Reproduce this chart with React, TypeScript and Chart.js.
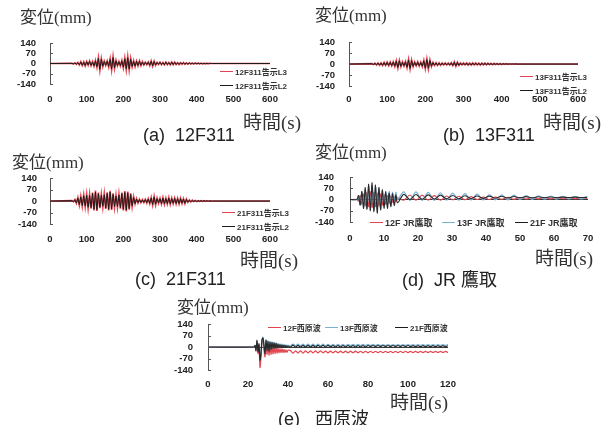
import React, { useEffect, useRef } from "react";
import { Chart, registerables } from "chart.js";

Chart.register(...registerables);

// ---------------------------------------------------------------------------
// Data. Displacement in mm. Long-period records (a)–(c) are sampled every 4 s
// from 60 s to 440 s; before and after that the response is flat at zero.
// ---------------------------------------------------------------------------
const LONG_START = 60;
const LONG_STEP = 4;
const LONG_END = 600;

// (a) 12F311
const A_L2 = [
  1, -2, 3, -4, 5, -8, 10, -12, 9, -14,
  12, -10, 15, -13, 11, -16, 18, -22, 35, -40,
  30, -18, 14, -12, 16, -20, 28, -38, 40, -30,
  18, -14, 12, -15, 18, -25, 32, -36, 40, -38,
  30, -20, 16, -18, 15, -14, 16, -12, 10, -9,
  8, -7, 9, -12, 15, -16, 14, -10, 7, -6,
  8, -7, 6, -8, 9, -7, 6, -8, 9, -7,
  8, -6, 5, -6, 5, -4, 5, -4, 3, -4,
  3, -3, 2, -3, 2, -2, 2, -2, 1, -2,
  1, -1, 1, -1, 1, 0,
];
const A_L3 = [
  1, -3, 4, -5, 7, -10, 12, -14, 11, -16,
  14, -12, 17, -15, 13, -18, 21, -26, 40, -46,
  34, -21, 16, -14, 18, -23, 32, -44, 46, -34,
  21, -16, 14, -17, 21, -29, 37, -42, 46, -44,
  35, -23, 18, -21, 17, -16, 18, -14, 12, -10,
  9, -8, 10, -14, 17, -18, 16, -12, 8, -7,
  9, -8, 7, -9, 10, -8, 7, -9, 10, -8,
  9, -7, 6, -7, 6, -5, 6, -5, 4, -5,
  4, -3, 3, -3, 3, -2, 2, -2, 2, -2,
  1, -1, 1, -1, 1, 0,
];

// (b) 13F311
const B_L2 = [
  2, -3, 4, -5, 6, -7, 6, -8, 9, -8,
  10, -9, 11, -10, 12, -14, 18, -22, 20, -15,
  12, -11, 14, -20, 26, -28, 22, -15, 11, -10,
  12, -11, 10, -14, 20, -26, 28, -27, 22, -14,
  9, -8, 7, -8, 6, -7, 6, -5, 6, -5,
  5, -6, 7, -9, 11, -12, 10, -8, 6, -5,
  6, -5, 6, -6, 5, -6, 6, -5, 6, -5,
  5, -6, 5, -4, 5, -4, 4, -3, 3, -3,
  3, -2, 2, -2, 2, -2, 2, -1, 2, -1,
  1, -1, 1, -1, 1, 0,
];
const B_L3 = [
  2, -3, 5, -6, 7, -8, 7, -9, 10, -9,
  12, -10, 13, -12, 14, -16, 21, -25, 23, -17,
  14, -13, 16, -23, 30, -32, 25, -17, 13, -12,
  14, -13, 12, -16, 23, -30, 32, -31, 25, -16,
  10, -9, 8, -9, 7, -8, 7, -6, 7, -6,
  6, -7, 8, -10, 13, -14, 12, -9, 7, -6,
  7, -6, 7, -7, 6, -7, 7, -6, 7, -6,
  6, -7, 6, -5, 6, -5, 5, -4, 4, -4,
  4, -3, 3, -3, 3, -3, 2, -2, 2, -2,
  1, -1, 1, -1, 1, 0,
];

// (c) 21F311
const C_L2 = [
  2, -4, 8, -12, 18, -22, 25, -28, 32, -30,
  35, -38, 34, -40, 45, -50, 55, -52, 45, -38,
  35, -32, 38, -42, 46, -50, 54, -48, 40, -34,
  30, -33, 36, -40, 45, -50, 52, -55, 50, -46,
  40, -30, 22, -16, 12, -10, 9, -8, 7, -8,
  9, -10, 12, -14, 18, -22, 24, -20, 15, -12,
  14, -16, 18, -17, 15, -16, 18, -17, 15, -14,
  16, -15, 14, -16, 15, -13, 12, -14, 10, -7,
  5, -4, 4, -3, 3, -3, 2, -2, 2, -2,
  2, -1, 1, -1, 1, 0,
];
const C_L3 = [
  3, -5, 9, -14, 21, -25, 29, -32, 37, -35,
  40, -44, 39, -46, 52, -58, 63, -60, 52, -44,
  40, -37, 44, -48, 53, -58, 62, -55, 46, -39,
  35, -38, 41, -46, 52, -58, 60, -63, 58, -53,
  46, -35, 25, -18, 14, -12, 10, -9, 8, -9,
  10, -12, 14, -16, 21, -25, 28, -23, 17, -14,
  16, -18, 21, -20, 17, -18, 21, -20, 17, -16,
  18, -17, 16, -18, 17, -15, 14, -16, 12, -8,
  6, -5, 5, -3, 3, -3, 2, -2, 2, -2,
  2, -1, 1, -1, 1, 0,
];

// (d) JR 鷹取 (s)
const D_TIME = [
  0, 2, 2.5, 3, 3.5, 4, 4.5, 5, 5.5, 6, 6.5, 7, 7.5, 8, 8.5, 9, 9.5, 10,
  10.5, 11, 11.5, 12, 12.5, 13, 13.5, 14, 15.8, 17.6, 19.4, 21.2, 23, 24.8,
  26.6, 28.4, 30.2, 32, 33.8, 35.6, 37.4, 39.2, 41, 42.8, 44.6, 46.4, 48.2,
  50, 51.8, 53.6, 55.4, 57.2, 59, 60.8, 62.6, 64.4, 66.2, 68, 69.8,
];
const D_12F = [
  0, 0, -10, 25, -30, 35, -40, 45, -45, 50, -50, 45, -45, 40, -40, 35, -35,
  30, -30, 25, -25, 22, -18, 18, -15, 10, -5, 28, -5, 27, -4, 24, -4, 22, -3,
  20, -2, 18, 0, 16, 0, 15, 2, 13, 2, 12, 3, 11, 4, 10, 4, 10, 5, 9, 5, 9, 6,
];
const D_13F = [
  0, 0, 15, -30, 40, -45, 60, -55, 80, -60, 85, -65, 75, -55, 65, -55, 55,
  -40, 50, -35, 50, -25, 45, -12, 45, 0, 48, -5, 47, -5, 44, -5, 42, -4, 40,
  -4, 37, -3, 34, -3, 31, -2, 29, -2, 27, 0, 25, 0, 23, 2, 21, 2, 19, 3, 18,
  3, 17,
];
const D_21F = [
  0, 0, 25, -35, 50, -55, 75, -60, 95, -70, 105, -75, 90, -85, 75, -65, 60,
  -55, 50, -55, 40, -45, 35, -38, 28, -20, 32, 0, 31, 2, 29, 3, 27, 4, 25, 5,
  23, 6, 22, 7, 21, 8, 20, 9, 19, 10, 18, 10, 17, 11, 16, 11, 15, 12, 15, 12,
  14,
];

// (e) 西原波: quiet until 23 s, strong motion sampled every 0.5 s to 40 s,
// then residual sway sampled every 1.25 s to 120 s.
const E_EVENT_START = 23;
const E_EVENT_STEP = 0.5;
const E_TAIL_START = 41.25;
const E_TAIL_STEP = 1.25;

const E_12F_EVENT = [
  0, 5, -25, 30, -40, 10, -125, -60, 30, 40, -20, -60, 20, -45, 10, -50, 5,
  -45, 0, -42, -3, -40, -5, -38, -8, -36, -10, -35, -12, -34, -15, -33, -18,
  -32, -20,
];
const E_13F_EVENT = [
  0, 8, -15, 35, -25, 15, -70, -35, 40, 60, 15, -35, 45, -15, 38, -20, 33,
  -10, 30, -5, 28, -3, 25, 0, 22, 2, 19, 3, 17, 5, 15, 6, 13, 7, 12,
];
const E_21F_EVENT = [
  0, 10, -20, 40, -30, 20, -80, -40, 45, 55, 10, -40, 40, -20, 35, -25, 30,
  -15, 28, -10, 25, -8, 22, -5, 18, -3, 15, -2, 12, 0, 10, 0, 8, 1, 6,
];
const E_12F_TAIL = [
  -22, -38, -23, -37, -23, -37, -24, -36,
  -24, -36, -24, -36, -24, -36, -25, -36,
  -25, -35, -25, -35, -25, -35, -25, -35,
  -25, -35, -25, -35, -26, -35, -26, -35,
  -26, -34, -26, -34, -26, -34, -26, -34,
  -26, -34, -26, -34, -26, -34, -26, -34,
  -27, -34, -27, -34, -27, -34, -27, -34,
  -27, -33, -27, -33, -27, -33, -27, -33,
];
const E_13F_TAIL = [
  6, 18, 7, 17, 7, 17, 7, 17,
  7, 17, 8, 17, 8, 17, 8, 16,
  8, 16, 8, 16, 8, 16, 8, 16,
  9, 16, 9, 16, 9, 16, 9, 16,
  9, 16, 9, 16, 9, 15, 9, 15,
  9, 15, 9, 15, 10, 15, 10, 15,
  10, 15, 10, 15, 10, 15, 10, 15,
  10, 15, 10, 15, 10, 15, 10, 15,
];
const E_21F_TAIL = [
  -1, 11, 0, 10, 0, 10, 0, 10,
  0, 10, 0, 10, 1, 10, 1, 10,
  1, 9, 1, 9, 1, 9, 1, 9,
  1, 9, 1, 9, 1, 9, 1, 9,
  2, 9, 2, 9, 2, 9, 2, 9,
  2, 9, 2, 9, 2, 9, 2, 9,
  2, 8, 2, 8, 2, 8, 2, 8,
  2, 8, 2, 8, 2, 8, 2, 8,
];

// ---------------------------------------------------------------------------
// Point builders (times only; all values come from the arrays above)
// ---------------------------------------------------------------------------
type Pt = { x: number; y: number };

function longRecord(vals: number[]): Pt[] {
  return [
    { x: 0, y: 0 },
    ...vals.map((v, i) => ({ x: LONG_START + i * LONG_STEP, y: v })),
    { x: LONG_END, y: 0 },
  ];
}

function zip(times: number[], vals: number[]): Pt[] {
  const out: Pt[] = [];
  for (let i = 0; i < times.length && i < vals.length; i++) out.push({ x: times[i], y: vals[i] });
  return out;
}

function nishihara(event: number[], tail: number[]): Pt[] {
  return [
    { x: 0, y: 0 },
    ...event.map((v, i) => ({ x: E_EVENT_START + i * E_EVENT_STEP, y: v })),
    ...tail.map((v, i) => ({ x: E_TAIL_START + i * E_TAIL_STEP, y: v })),
  ];
}

// ---------------------------------------------------------------------------
// Styling
// ---------------------------------------------------------------------------
const RED = "#e2454f";
const BLUE = "#79b2d3";
const BLACK = "#1c1c1c";
const AXIS = "#555";

const CJK = "'Noto Sans CJK JP', sans-serif";
const SERIF = "'Liberation Serif', 'DejaVu Serif', serif";
const SANS = "'Liberation Sans', Arial, 'Noto Sans CJK JP', sans-serif";

const TICK_FONT = { family: "'Liberation Sans', Arial, sans-serif", size: 9.5, weight: "bold" as const };
const X_AXIS_H = 20;

type Series = { label: string; color: string; points: Pt[]; width?: number; tension?: number };
type Box = { left: number; top: number; width: number; height: number };
type Area = { l: number; t: number; r: number; b: number };
type PanelSpec = {
  box: Box;
  area: Area;
  xMax: number;
  xStep: number;
  xPad: number;
  yPad: number;
  series: Series[]; // first entry is drawn on top
};

// short inward tick marks on the vertical axis
const innerTicks = {
  id: "innerTicks",
  afterDatasetsDraw(chart: any) {
    const y = chart.scales.y;
    const left = chart.chartArea.left;
    const ctx = chart.ctx;
    ctx.save();
    ctx.strokeStyle = AXIS;
    ctx.lineWidth = 1;
    y.ticks.forEach((t: any) => {
      if (t.value === 0) return;
      const py = Math.round(y.getPixelForValue(t.value)) + 0.5;
      ctx.beginPath();
      ctx.moveTo(left, py);
      ctx.lineTo(left + 3, py);
      ctx.stroke();
    });
    ctx.restore();
  },
};

function LinePanel({ spec }: { spec: PanelSpec }) {
  const ref = useRef<HTMLCanvasElement | null>(null);
  useEffect(() => {
    if (!ref.current) return;
    const { box, area } = spec;
    const yWidth = area.l - box.left;
    const chart = new Chart(ref.current, {
      type: "line",
      data: {
        datasets: spec.series.map((s) => ({
          label: s.label,
          data: s.points,
          borderColor: s.color,
          backgroundColor: s.color,
          borderWidth: s.width ?? 1,
          pointRadius: 0,
          tension: s.tension ?? 0,
          fill: false,
        })),
      },
      options: {
        animation: false,
        responsive: false,
        maintainAspectRatio: false,
        parsing: false as any,
        normalized: true,
        layout: {
          padding: {
            left: 0,
            top: area.t - box.top,
            right: box.left + box.width - area.r,
            bottom: box.top + box.height - area.b - X_AXIS_H,
          },
        },
        plugins: {
          legend: { display: false },
          tooltip: { enabled: false },
          title: { display: false },
        },
        scales: {
          x: {
            type: "linear",
            min: 0,
            max: spec.xMax,
            ticks: {
              stepSize: spec.xStep,
              padding: spec.xPad,
              font: TICK_FONT,
              color: "#222",
              maxRotation: 0,
              autoSkip: false,
            },
            grid: { display: false, drawTicks: false },
            border: { display: false },
            afterFit: (s: any) => {
              s.height = X_AXIS_H;
            },
          },
          y: {
            type: "linear",
            min: -140,
            max: 140,
            ticks: {
              stepSize: 70,
              padding: spec.yPad,
              font: TICK_FONT,
              color: "#222",
              autoSkip: false,
            },
            grid: {
              drawTicks: false,
              lineWidth: 1,
              color: (ctx: any) => (ctx.tick && ctx.tick.value === 0 ? "#3a3a3a" : "rgba(0,0,0,0)"),
            },
            border: { display: true, color: AXIS, width: 1 },
            afterFit: (s: any) => {
              s.width = yWidth;
            },
          },
        },
      },
      plugins: [innerTicks],
    } as any);
    return () => chart.destroy();
  }, [spec]);

  const { box } = spec;
  return (
    <canvas
      ref={ref}
      width={box.width}
      height={box.height}
      style={{
        position: "absolute",
        left: box.left,
        top: box.top,
        width: box.width,
        height: box.height,
        display: "block",
      }}
    />
  );
}

// ---------------------------------------------------------------------------
// Panels (canvas boxes leave room above/right for the axis label overhang)
// ---------------------------------------------------------------------------
const PANEL_A: PanelSpec = {
  box: { left: 0, top: 19, width: 300, height: 91 },
  area: { l: 50, t: 43, r: 270, b: 84 },
  xMax: 600,
  xStep: 100,
  xPad: 10,
  yPad: 14,
  series: [
    { label: "12F311告示L2", color: BLACK, points: longRecord(A_L2) },
    { label: "12F311告示L3", color: RED, points: longRecord(A_L3), width: 1.7 },
  ],
};

const PANEL_B: PanelSpec = {
  box: { left: 300, top: 18, width: 301, height: 92 },
  area: { l: 349, t: 42, r: 578, b: 86 },
  xMax: 600,
  xStep: 100,
  xPad: 8,
  yPad: 14,
  series: [
    { label: "13F311告示L2", color: BLACK, points: longRecord(B_L2) },
    { label: "13F311告示L3", color: RED, points: longRecord(B_L3), width: 1.7 },
  ],
};

const PANEL_C: PanelSpec = {
  box: { left: 0, top: 154, width: 300, height: 96 },
  area: { l: 50, t: 178, r: 270, b: 224 },
  xMax: 600,
  xStep: 100,
  xPad: 10,
  yPad: 13,
  series: [
    { label: "21F311告示L2", color: BLACK, points: longRecord(C_L2) },
    { label: "21F311告示L3", color: RED, points: longRecord(C_L3), width: 1.7 },
  ],
};

const PANEL_D: PanelSpec = {
  box: { left: 300, top: 152, width: 320, height: 98 },
  area: { l: 350, t: 177, r: 588, b: 222 },
  xMax: 70,
  xStep: 10,
  xPad: 11,
  yPad: 16,
  series: [
    { label: "21F JR鷹取", color: "#2a2a2a", points: zip(D_TIME, D_21F), width: 1.1, tension: 0.3 },
    { label: "13F JR鷹取", color: BLUE, points: zip(D_TIME, D_13F), width: 1.2, tension: 0.3 },
    { label: "12F JR鷹取", color: RED, points: zip(D_TIME, D_12F), width: 1.1, tension: 0.3 },
  ],
};

const PANEL_E: PanelSpec = {
  box: { left: 150, top: 299, width: 330, height: 99 },
  area: { l: 208, t: 324, r: 448, b: 370 },
  xMax: 120,
  xStep: 20,
  xPad: 9,
  yPad: 15,
  series: [
    { label: "21F西原波", color: "#2a2a2a", points: nishihara(E_21F_EVENT, E_21F_TAIL), width: 1.2, tension: 0.25 },
    { label: "13F西原波", color: BLUE, points: nishihara(E_13F_EVENT, E_13F_TAIL), width: 1.2, tension: 0.25 },
    { label: "12F西原波", color: RED, points: nishihara(E_12F_EVENT, E_12F_TAIL), width: 1.2, tension: 0.25 },
  ],
};

// ---------------------------------------------------------------------------
// Text pieces
// ---------------------------------------------------------------------------
function YTitle({ left, top }: { left: number; top: number }) {
  return (
    <div style={{ position: "absolute", left, top, lineHeight: 1, whiteSpace: "nowrap", color: "#333" }}>
      <span style={{ fontFamily: CJK, fontSize: 17 }}>変位</span>
      <span style={{ fontFamily: SERIF, fontSize: 17 }}>(mm)</span>
    </div>
  );
}

function XTitle({ left, top }: { left: number; top: number }) {
  return (
    <div style={{ position: "absolute", left, top, lineHeight: 1, whiteSpace: "nowrap", color: "#333" }}>
      <span style={{ fontFamily: CJK, fontSize: 19 }}>時間</span>
      <span style={{ fontFamily: SERIF, fontSize: 19 }}>(s)</span>
    </div>
  );
}

function Caption({ left, top, text }: { left: number; top: number; text: string }) {
  return (
    <div
      style={{
        position: "absolute",
        left,
        top,
        lineHeight: 1,
        whiteSpace: "pre",
        fontFamily: SANS,
        fontSize: 18,
        color: "#222",
      }}
    >
      {text}
    </div>
  );
}

function LegendItem({ left, y, color, text, size = 8 }: { left: number; y: number; color: string; text: string; size?: number }) {
  return (
    <div
      style={{
        position: "absolute",
        left,
        top: y - 6,
        height: 12,
        display: "flex",
        alignItems: "center",
        whiteSpace: "nowrap",
        fontFamily: SANS,
        fontWeight: "bold",
        fontSize: size,
        color: "#333",
      }}
    >
      <span style={{ display: "inline-block", width: 13, height: 0, borderTop: `1.5px solid ${color}`, marginRight: 2 }} />
      <span>{text}</span>
    </div>
  );
}

export default function App() {
  return (
    <div
      style={{
        position: "absolute",
        left: 0,
        top: 0,
        width: 601,
        height: 425,
        background: "#fff",
        overflow: "hidden",
      }}
    >
      <LinePanel spec={PANEL_A} />
      <LinePanel spec={PANEL_B} />
      <LinePanel spec={PANEL_C} />
      <LinePanel spec={PANEL_D} />
      <LinePanel spec={PANEL_E} />

      {/* (a) */}
      <YTitle left={20} top={7} />
      <LegendItem left={220} y={71} color={RED} text="12F311告示L3" />
      <LegendItem left={220} y={85} color={BLACK} text="12F311告示L2" />
      <XTitle left={243} top={111} />
      <Caption left={143} top={126} text={"(a)  12F311"} />

      {/* (b) */}
      <YTitle left={315} top={5} />
      <LegendItem left={520} y={76} color={RED} text="13F311告示L3" />
      <LegendItem left={520} y={90} color={BLACK} text="13F311告示L2" />
      <XTitle left={543} top={111} />
      <Caption left={443} top={126} text={"(b)  13F311"} />

      {/* (c) */}
      <YTitle left={12} top={152} />
      <LegendItem left={222} y={212} color={RED} text="21F311告示L3" />
      <LegendItem left={222} y={226} color={BLACK} text="21F311告示L2" />
      <XTitle left={240} top={249} />
      <Caption left={135} top={270} text={"(c)  21F311"} />

      {/* (d) */}
      <YTitle left={315} top={142} />
      <LegendItem left={370} y={222} color={RED} text="12F JR鷹取" size={9} />
      <LegendItem left={442} y={222} color={BLUE} text="13F JR鷹取" size={9} />
      <LegendItem left={515} y={222} color={BLACK} text="21F JR鷹取" size={9} />
      <XTitle left={535} top={247} />
      <Caption left={402} top={271} text={"(d)  JR 鷹取"} />

      {/* (e) */}
      <YTitle left={177} top={297} />
      <LegendItem left={268} y={327} color={RED} text="12F西原波" />
      <LegendItem left={325} y={327} color={BLUE} text="13F西原波" />
      <LegendItem left={395} y={327} color={BLACK} text="21F西原波" />
      <XTitle left={390} top={391} />
      <Caption left={278} top={410} text={"(e)   西原波"} />
    </div>
  );
}
